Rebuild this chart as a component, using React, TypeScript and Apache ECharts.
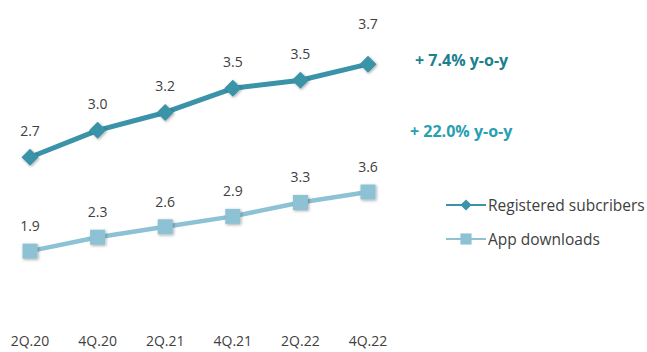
import React, { useEffect, useRef } from "react";
import * as echarts from "echarts";

const categories = ["2Q.20", "4Q.20", "2Q.21", "4Q.21", "2Q.22", "4Q.22"];
const registeredSubscribers = [2.68, 2.98, 3.18, 3.45, 3.54, 3.72];
const appDownloads = [1.9, 2.3, 2.6, 2.9, 3.3, 3.6];
const seriesNames = ["Registered subcribers", "App downloads"];
const growthNotes = ["+ 7.4% y-o-y", "+ 22.0% y-o-y"];

const FONT = "'Open Sans', 'DejaVu Sans', sans-serif";
const DARK = "#3a93a8";
const LIGHT = "#8dc1d4";

export default function App() {
  const ref = useRef<HTMLDivElement>(null);
  useEffect(() => {
    if (!ref.current) return;
    const chart = echarts.init(ref.current, undefined, { renderer: "svg" });
    const labelStyle = {
      show: true,
      position: "top" as const,
      distance: 11,
      fontFamily: FONT,
      fontSize: 14,
      color: "#404040",
      formatter: (p: any) => Number(p.value).toFixed(1),
    };
    const shadow = {
      shadowBlur: 3,
      shadowColor: "rgba(0,0,0,0.35)",
      shadowOffsetX: 1,
      shadowOffsetY: 1,
    };
    chart.setOption({
      animation: false,
      backgroundColor: "#ffffff",
      grid: { left: 30, right: 279, top: 20, bottom: 52 },
      legend: {
        orient: "vertical",
        left: 440,
        top: 192,
        itemWidth: 40,
        itemHeight: 14,
        itemGap: 18,
        textStyle: { fontFamily: FONT, fontSize: 15.5, color: "#404040", padding: [0, 0, 0, -3] },
        data: seriesNames,
      },
      xAxis: {
        type: "category",
        data: categories,
        boundaryGap: false,
        axisLine: { show: false },
        axisTick: { show: false },
        splitLine: { show: false },
        axisLabel: { margin: 33, fontFamily: FONT, fontSize: 14, color: "#404040" },
      },
      yAxis: [
        { type: "value", min: 1.085, max: 4.213, show: false, splitLine: { show: false } },
        { type: "value", min: 0.495, max: 8.548, show: false, splitLine: { show: false } },
      ],
      series: [
        {
          name: seriesNames[0],
          type: "line",
          yAxisIndex: 0,
          data: registeredSubscribers.map((v, i) =>
            i === registeredSubscribers.length - 1
              ? { value: v, label: { distance: 25 } }
              : v
          ),
          symbol: "diamond",
          symbolSize: 17,
          lineStyle: { color: DARK, width: 5 },
          itemStyle: { color: DARK, ...shadow },
          label: labelStyle,
        },
        {
          name: seriesNames[1],
          type: "line",
          yAxisIndex: 1,
          data: appDownloads,
          symbol: "rect",
          symbolSize: 15,
          lineStyle: { color: LIGHT, width: 4.5 },
          itemStyle: { color: LIGHT, ...shadow },
          label: labelStyle,
        },
      ],
      graphic: [
        {
          type: "text",
          left: 415,
          top: 52,
          style: { text: growthNotes[0], fontFamily: FONT, fontSize: 16, fontWeight: "bold", fill: "#1e7f8e" },
        },
        {
          type: "text",
          left: 410,
          top: 123,
          style: { text: growthNotes[1], fontFamily: FONT, fontSize: 16, fontWeight: "bold", fill: "#29a0b2" },
        },
      ],
    });
    return () => chart.dispose();
  }, []);
  return (
    <div
      ref={ref}
      style={{ position: "fixed", left: 0, top: 0, width: 647, height: 352 }}
    />
  );
}
